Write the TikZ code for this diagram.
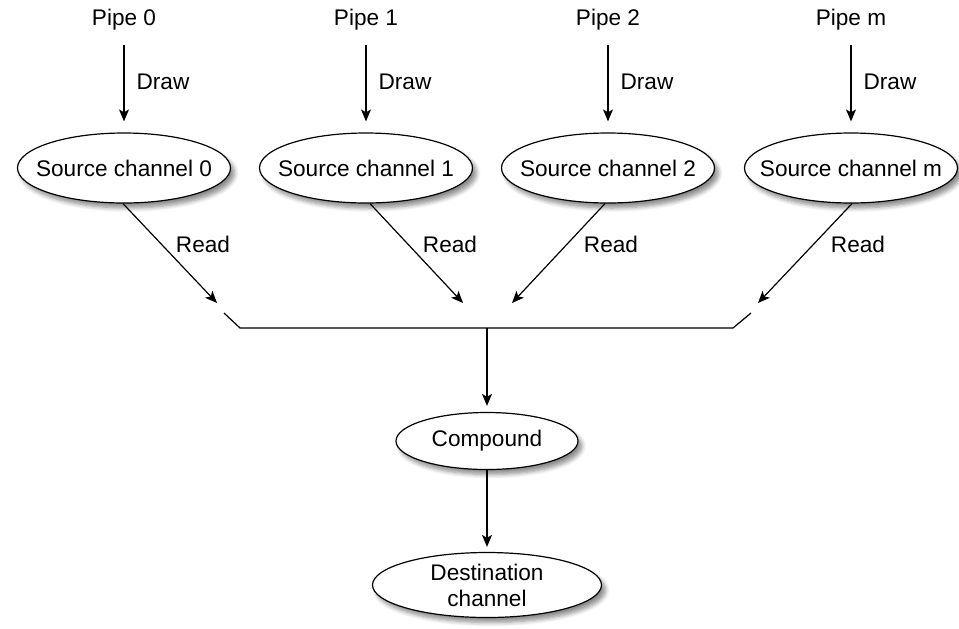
\documentclass[tikz,border=0pt]{standalone}
\usepackage{fontspec}
\setmainfont{Liberation Sans}
\usetikzlibrary{arrows.meta,positioning,shapes.geometric,shadows.blur}
\tikzset{
  chan/.style={ellipse,draw,fill=white,line width=0.6pt,inner sep=0pt,align=center,
    minimum width=106.5pt,minimum height=35pt,
    blur shadow={shadow xshift=2pt,shadow yshift=-2.5pt,shadow blur steps=6,shadow opacity=45}},
  lbl/.style={inner sep=0pt},
  flow/.style={line width=0.6pt,-{Stealth[length=6pt,width=5pt,inset=1.5pt]}},
  bar/.style={line width=0.6pt}
}

\begin{document}
\begin{tikzpicture}[x=0.5pt,y=-0.5pt,font=\fontsize{11.3}{13}\selectfont]
  \useasboundingbox (0,0) rectangle (959,628);
  % pipes and their source channels
  \foreach \x/\n in {124/0,366/1,608/2,851/m}{
    \node[lbl] (p\n) at (\x,20) {Pipe \n};
    \node[chan] (s\n) at (\x,168) {\makebox[0pt]{Source channel \n}};
    \draw[flow,shorten <=7pt,shorten >=5.5pt] (p\n.south) -- node[lbl,right=6pt] (dw\n) {Draw} (s\n.north);
  }
  % reads into the join
  \foreach \n/\dx/\ex/\lx in {0/-0.5/217/203,1/2/463/450,2/-1.5/512/611,m/0.5/758/858}{
    \coordinate (r\n) at (\ex,303);
    \draw[flow] ([xshift=\dx pt]s\n.south) -- (r\n);
    \node[lbl] (rd\n) at (\lx,244) {Read};
  }
  \coordinate (ja) at (224,313);
  \coordinate (jb) at (240,328);
  \coordinate (jc) at (733,328);
  \coordinate (jd) at (751,313);
  \coordinate (jm) at (487,328);
  \draw[bar] (ja) -- (jb) -- (jc) -- (jd);
  % compound and destination
  \node[chan,minimum width=91pt,minimum height=28.5pt] (cmp) at (487,441) {Compound};
  \node[chan,minimum width=114.5pt,minimum height=32.5pt] (dst) at (487,585) {Destination\\channel};
  \draw[flow,shorten >=3pt] (jm) -- (cmp.north);
  \draw[flow,shorten >=2.5pt] (cmp.south) -- (dst.north);
\end{tikzpicture}
\end{document}
